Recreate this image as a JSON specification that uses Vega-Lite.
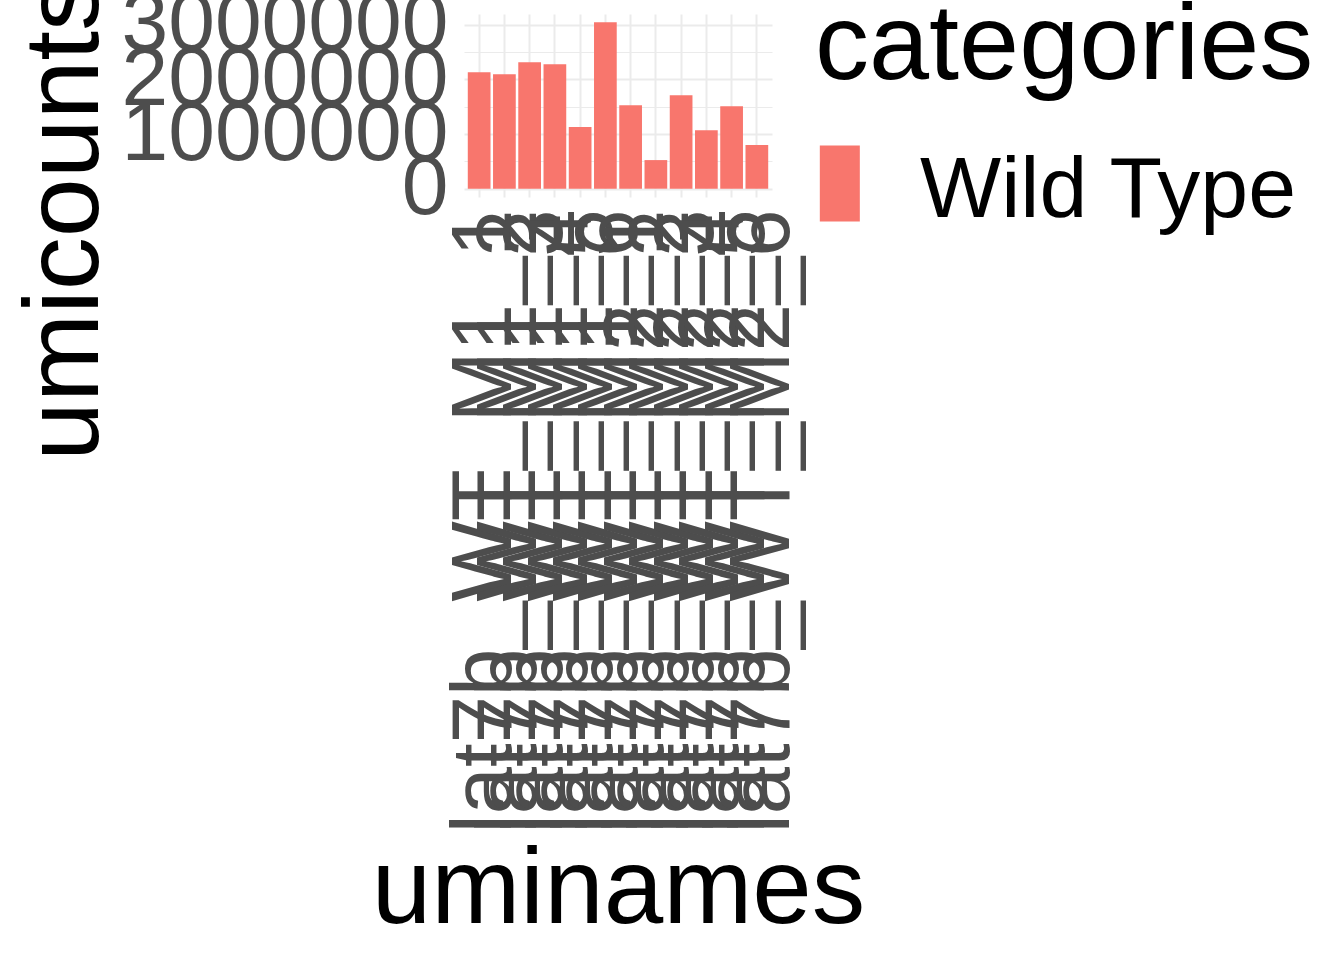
{
  "$schema": "https://vega.github.io/schema/vega-lite/v6.json",
  "autosize": {"type": "none"},
  "padding": {"left": 464, "top": 14, "right": 572, "bottom": 763},
  "width": 308,
  "height": 183,
  "background": "white",
  "config": {
    "view": {"stroke": null},
    "font": "Liberation Sans"
  },
  "data": {
    "values": [
      {"uminames": "lat7b_WT_M1_1", "umicounts": 2130000, "categories": "Wild Type"},
      {"uminames": "lat7b_WT_M1_2", "umicounts": 2093000, "categories": "Wild Type"},
      {"uminames": "lat7b_WT_M1_3", "umicounts": 2312000, "categories": "Wild Type"},
      {"uminames": "lat7b_WT_M1_4", "umicounts": 2276000, "categories": "Wild Type"},
      {"uminames": "lat7b_WT_M1_5", "umicounts": 1126000, "categories": "Wild Type"},
      {"uminames": "lat7b_WT_M1_6", "umicounts": 3043000, "categories": "Wild Type"},
      {"uminames": "lat7b_WT_M2_1", "umicounts": 1527000, "categories": "Wild Type"},
      {"uminames": "lat7b_WT_M2_2", "umicounts": 523000, "categories": "Wild Type"},
      {"uminames": "lat7b_WT_M2_3", "umicounts": 1710000, "categories": "Wild Type"},
      {"uminames": "lat7b_WT_M2_4", "umicounts": 1071000, "categories": "Wild Type"},
      {"uminames": "lat7b_WT_M2_5", "umicounts": 1509000, "categories": "Wild Type"},
      {"uminames": "lat7b_WT_M2_6", "umicounts": 797000, "categories": "Wild Type"}
    ]
  },
  "mark": {"type": "bar"},
  "encoding": {
    "x": {
      "field": "uminames",
      "type": "nominal",
      "sort": null,
      "scale": {"paddingInner": 0.1, "paddingOuter": 0.15},
      "axis": {
        "title": "uminames",
        "titleFont": "Liberation Sans",
        "titleFontSize": 107,
        "titleFontWeight": "normal",
        "titleColor": "black",
        "titleBaseline": "alphabetic",
        "titleY": 725,
        "titlePadding": 0,
        "labelFont": "Liberation Sans",
        "labelFontSize": 85,
        "labelColor": "#4D4D4D",
        "labelAngle": 270,
        "labelAlign": "right",
        "labelBaseline": "middle",
        "labelPadding": 12,
        "labelOffset": 6,
        "labelOverlap": false,
        "labelBound": false,
        "labelFlush": false,
        "labelLimit": 0,
        "ticks": false,
        "tickSize": 0,
        "domain": false,
        "grid": true,
        "gridColor": "#EBEBEB",
        "gridWidth": 2,
        "bandPosition": 0.5
      }
    },
    "y": {
      "field": "umicounts",
      "type": "quantitative",
      "scale": {"domain": [-152000, 3195000], "nice": false, "zero": false},
      "axis": {
        "title": "umicounts",
        "titleFont": "Liberation Sans",
        "titleFontSize": 106,
        "titleFontWeight": "normal",
        "titleColor": "black",
        "titleAngle": 270,
        "titleAlign": "center",
        "titleBaseline": "alphabetic",
        "titleX": -367,
        "titleY": 205,
        "values": [0, 500000, 1000000, 1500000, 2000000, 2500000, 3000000],
        "format": "d",
        "labelExpr": "datum.value % 1000000 === 0 ? datum.label : ''",
        "labelFont": "Liberation Sans",
        "labelFontSize": 84,
        "labelColor": "#4D4D4D",
        "labelPadding": 16,
        "labelOverlap": false,
        "labelBound": false,
        "labelFlush": false,
        "labelLimit": 0,
        "ticks": false,
        "tickSize": 0,
        "domain": false,
        "grid": true,
        "gridColor": "#EBEBEB",
        "gridWidth": {"condition": {"test": "datum.value % 1000000 === 0", "value": 2}, "value": 1}
      }
    },
    "color": {
      "field": "categories",
      "type": "nominal",
      "scale": {"range": ["#F8766D"]},
      "legend": {
        "title": "categories",
        "orient": "none",
        "legendX": 351,
        "legendY": -20,
        "padding": 0,
        "titleFont": "Liberation Sans",
        "titleFontSize": 108,
        "titleFontWeight": "normal",
        "titleColor": "black",
        "titleLimit": 3000,
        "titlePadding": 46,
        "labelFont": "Liberation Sans",
        "labelFontSize": 86,
        "labelColor": "black",
        "labelOffset": 19,
        "labelLimit": 0,
        "symbolType": "M-1.005,-1.2H0.048V0.8H-1.005Z",
        "symbolSize": 5776,
        "symbolStrokeWidth": 0,
        "symbolOpacity": 1
      }
    }
  }
}
